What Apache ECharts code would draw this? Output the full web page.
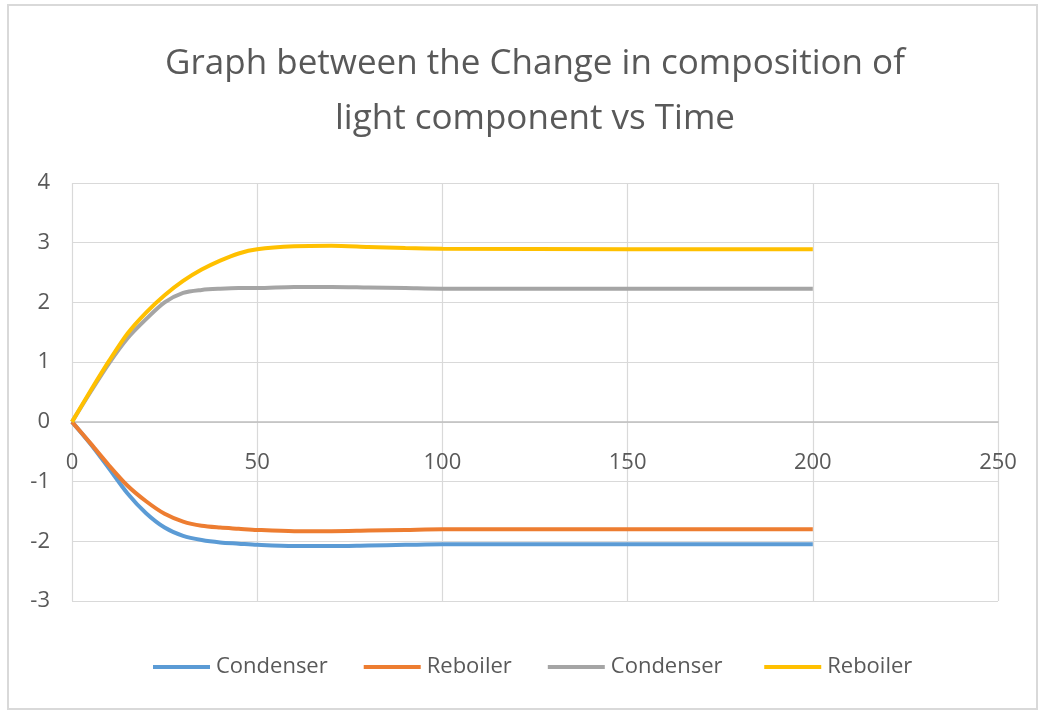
<!DOCTYPE html>
<html><head><meta charset="utf-8">
<script src="https://cdn.jsdelivr.net/npm/echarts@6/dist/echarts.min.js"></script>
<style>html,body{margin:0;padding:0;background:#fff}#c{width:1040px;height:711px}</style>
</head><body><div id="c"></div>
<script>
const time = [0,5,10,15,20,25,30,35,40,45,50,60,70,80,90,100,150,200];
const condenser1 = [0,-0.37,-0.78,-1.2,-1.53,-1.77,-1.91,-1.98,-2.02,-2.04,-2.06,-2.08,-2.08,-2.07,-2.06,-2.05,-2.05,-2.05];
const reboiler1 = [0,-0.36,-0.73,-1.07,-1.33,-1.54,-1.67,-1.74,-1.77,-1.79,-1.81,-1.83,-1.83,-1.82,-1.81,-1.8,-1.8,-1.8];
const condenser2 = [0,0.5,0.98,1.4,1.72,2.0,2.16,2.21,2.23,2.24,2.24,2.26,2.26,2.25,2.24,2.23,2.23,2.23];
const reboiler2 = [0,0.52,1.02,1.48,1.83,2.12,2.36,2.55,2.7,2.82,2.89,2.94,2.95,2.93,2.91,2.9,2.89,2.89];
const seriesNames = ['Condenser','Reboiler','Condenser','Reboiler'];
const colors = ['#5b9bd5','#ed7d31','#a5a5a5','#ffc000'];
const titleText = 'Graph between the Change in composition of\nlight component vs Time';

const FONT = '"Liberation Sans Narrow","Open Sans",sans-serif';
const allData = [condenser1, reboiler1, condenser2, reboiler2];
const chart = echarts.init(document.getElementById('c'));
chart.setOption({
  animation:false,
  backgroundColor:'#fff',
  title:{text:titleText,left:530,top:32,textAlign:'center',textStyle:{fontFamily:FONT,fontSize:35,fontWeight:'normal',color:'#595959',lineHeight:55}},
  graphic:[{type:'rect',shape:{x:8,y:5,width:1029,height:704},style:{fill:'none',stroke:'#d9d9d9',lineWidth:2},silent:true}],
  legend:{bottom:28,left:148,itemWidth:57,itemHeight:4,itemGap:36,icon:'rect',
    textStyle:{fontFamily:FONT,fontSize:22,color:'#595959',padding:[0,0,0,1]},
    data:seriesNames.map((n,i)=>({name:n+(i>=2?' ':''),itemStyle:{color:colors[i]}}))},
  grid:{left:72,right:42,top:183,bottom:110,containLabel:false},
  xAxis:{type:'value',min:0,max:250,interval:50,offset:-179,
    axisLine:{onZero:false,lineStyle:{color:'#bfbfbf',width:1.5}},axisTick:{show:false},
    axisLabel:{fontFamily:FONT,fontSize:22,color:'#595959',margin:30},
    splitLine:{lineStyle:{color:'#d9d9d9',width:1.2}}},
  yAxis:{type:'value',min:-3,max:4,interval:1,
    axisLine:{show:false},axisTick:{show:false},
    axisLabel:{fontFamily:FONT,fontSize:22,color:'#595959',margin:22},
    splitLine:{lineStyle:{color:'#d9d9d9',width:1.2}}},
  series: allData.map((d,i)=>({
    name: seriesNames[i]+(i>=2?' ':''), type:'line', smooth:0.3, showSymbol:false, symbol:'none',
    lineStyle:{color:colors[i],width:4}, itemStyle:{color:colors[i]},
    data: time.map((t,j)=>[t,d[j]])
  }))
});
</script></body></html>
